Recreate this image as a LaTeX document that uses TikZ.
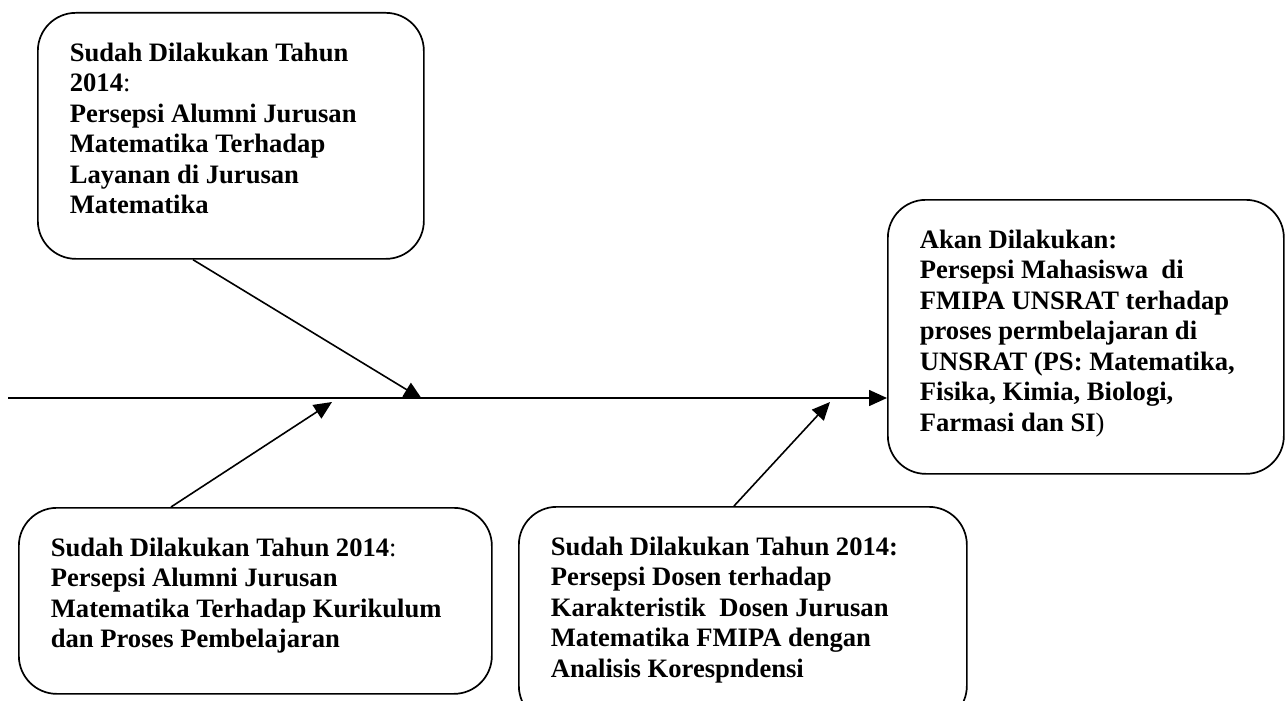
\documentclass[tikz,border=0pt]{standalone}
\usepackage{fontspec}
\setmainfont{Liberation Serif}
\usetikzlibrary{positioning, arrows.meta}

\begin{document}
\begin{tikzpicture}[
        x=1pt, y=-1pt,
        panel/.style={draw, line width=1.7pt, rounded corners=38pt, anchor=north west, inner xsep=32pt, inner ysep=30pt, font=\fontsize{26.6}{30.5}\selectfont\bfseries},
        arrow/.style={-{Triangle[length=18pt, width=16pt]}, line width=1.6pt}
    ]
    \useasboundingbox (0,0) rectangle (1288,701);

    \node[panel] (layanan) at (37,12) {\parbox[c][186pt][t]{322pt}{\raggedright Sudah Dilakukan Tahun\\ 2014\textmd{:}\\ Persepsi Alumni Jurusan\\ Matematika Terhadap\\ Layanan di Jurusan\\ Matematika}};
    \node[panel] (rencana) at (887,199) {\parbox[c][214pt][t]{332pt}{\raggedright Akan Dilakukan:\\ Persepsi Mahasiswa~ di\\ FMIPA UNSRAT terhadap\\ proses permbelajaran di\\ UNSRAT (PS: Matematika,\\ Fisika, Kimia, Biologi,\\ Farmasi dan SI\textmd{)}}};
    \node[panel] (kurikulum) at (18,507) {\parbox[c][126pt][t]{409pt}{\raggedright Sudah Dilakukan Tahun 2014\textmd{:}\\ Persepsi Alumni Jurusan\\ Matematika Terhadap Kurikulum\\ dan Proses Pembelajaran}};
    \node[panel] (dosen) at (518,506) {\parbox[c][157pt][t]{384pt}{\raggedright Sudah Dilakukan Tahun 2014:\\ Persepsi Dosen terhadap\\ Karakteristik~ Dosen Jurusan\\ Matematika FMIPA dengan\\ Analisis Korespndensi}};

    % spine and where the branches meet it
    \coordinate (tail) at (8,398);
    \coordinate (hit1) at (422,399);
    \coordinate (hit2) at (332,402);
    \coordinate (hit3) at (830,402);

    \draw[arrow] (tail) -- (tail -| rencana.west);
    \draw[arrow] ([xshift=156pt]layanan.south west) -- (hit1);
    \draw[arrow] ([xshift=153pt]kurikulum.north west) -- (hit2);
    \draw[arrow] ([xshift=216pt]dosen.north west) -- (hit3);
\end{tikzpicture}
\end{document}
